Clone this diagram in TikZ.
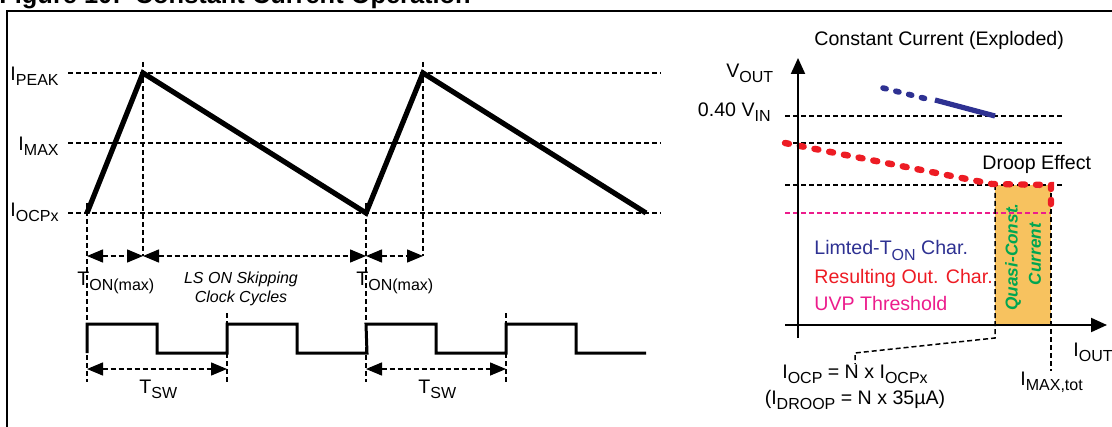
\documentclass[tikz,border=0pt]{standalone}
\usepackage{fontspec}
\setmainfont{Liberation Sans}
\usetikzlibrary{arrows.meta}

\definecolor{limblue}{HTML}{2E3192}
\definecolor{outred}{HTML}{ED1C24}
\definecolor{uvppink}{HTML}{EC1C8C}
\definecolor{ccgreen}{HTML}{00A651}
\definecolor{ccorange}{HTML}{F7C25F}

\newcommand{\lo}[1]{\raisebox{-2.5pt}{\fontsize{8}{9}\selectfont #1}}

\tikzset{
  lbl/.style={inner sep=0pt, font=\fontsize{9.8}{11}\selectfont},
  small/.style={inner sep=0pt, font=\fontsize{8}{9}\selectfont\itshape},
  guide/.style={line width=0.75pt, dash pattern=on 2.5pt off 1.5pt},
  dim/.style={guide, {Triangle[length=8pt,width=6.5pt]}-{Triangle[length=8pt,width=6.5pt]}},
  wave/.style={line width=2.6pt},
  pulse/.style={line width=1.5pt},
  axis/.style={line width=1pt, -{Triangle[length=8pt,width=7pt]}},
  reddots/.style={outred, line width=3.2pt, line cap=round, dash pattern=on 2pt off 5.5pt},
  bluedots/.style={limblue, line width=2.8pt, line cap=round, dash pattern=on 1.6pt off 5pt},
}

\begin{document}
\begin{tikzpicture}[x=0.5pt, y=-0.5pt]
    \useasboundingbox (0,0) rectangle (1112,427);
    \begin{scope}
    \clip (0,0) rectangle (1112,427);
    \node[lbl, anchor=base west, font=\fontsize{12.7}{14}\selectfont\bfseries] (title) at (-1,4) {Figure 10:\ \ Constant Current Operation};
    \end{scope}
    \draw[line width=1pt] (7,427) -- (7,11) -- (1112,11);

    % current ramp
    \node[lbl, anchor=base east] (ipeak) at (59,81) {I\lo{PEAK}};
    \node[lbl, anchor=base east] (imax) at (59,151) {I\lo{MAX}};
    \node[lbl, anchor=base east] (iocpx) at (59,216) {I\lo{OCPx}};
    \draw[guide] (68,73) -- (661,73);
    \draw[guide] (68,143) -- (661,143);
    \draw[guide] (68,213) -- (661,213);
    \draw[guide] (87,203) -- (87,382);
    \draw[guide] (143,62) -- (143,256);
    \draw[guide] (366,203) -- (366,382);
    \draw[guide] (423,62) -- (423,256);
    \draw[guide] (227,313) -- (227,382);
    \draw[guide] (506,313) -- (506,382);

    \coordinate (r0) at (87,213);
    \coordinate (p1) at (143,73);
    \coordinate (r1) at (366,213);
    \coordinate (p2) at (423,73);
    \coordinate (r2) at (646,213);
    \draw[wave] (r0) -- (p1) -- (r1) -- (p2) -- (r2);

    \coordinate (a0) at (87,256);
    \coordinate (a1) at (143,256);
    \coordinate (a2) at (366,256);
    \coordinate (a3) at (423,256);
    \draw[dim] (a0) -- (a1);
    \draw[dim] (a1) -- (a2);
    \draw[dim] (a2) -- (a3);
    \node[lbl, anchor=base west] (ton1) at (77,285) {T\lo{ON(max)}};
    \node[lbl, anchor=base west] (ton2) at (356,285) {T\lo{ON(max)}};
    \node[small, anchor=base] (skip1) at (241,283) {LS ON Skipping};
    \node[small, anchor=base] (skip2) at (241,302) {Clock Cycles};

    % clock
    \draw[pulse] (87,353) foreach \s in {87,227,366,506} { -- (\s,324) -- (\s+70,324) -- (\s+70,353) -- (\s+140,353) };
    \coordinate (s0) at (87,369);
    \coordinate (s1) at (227,369);
    \coordinate (s2) at (366,369);
    \coordinate (s3) at (506,369);
    \draw[dim] (s0) -- (s1);
    \draw[dim] (s2) -- (s3);
    \node[lbl, anchor=base west] (tsw1) at (139,393) {T\lo{SW}};
    \node[lbl, anchor=base west] (tsw2) at (418,393) {T\lo{SW}};

    % output characteristic
    \node[lbl, anchor=base west] (head) at (814,46) {Constant Current (Exploded)};
    \node[lbl, anchor=base west] (vout) at (726,78) {V\lo{OUT}};
    \node[lbl, anchor=base east] (vin) at (771,117) {0.40 V\lo{IN}};
    \node[lbl, anchor=base west] (droop) at (982,170) {Droop Effect};

    \fill[ccorange] (995,185) rectangle (1051,325);
    \draw[guide] (785,116) -- (1065,116);
    \draw[guide] (785,143) -- (1065,143);
    \draw[guide] (785,185) -- (1065,185);
    \draw[guide, uvppink] (785,213) -- (1051,213);

    \node[lbl, anchor=base west, limblue] (leglim) at (814,255) {Limted-T\lo{ON} Char.};
    \node[lbl, anchor=base west, outred] (legout) at (814,283) {Resulting Out. Char.};
    \node[lbl, anchor=base west, uvppink] (leguvp) at (814,310) {UVP Threshold};
    \node[inner sep=0pt, rotate=90, ccgreen, font=\fontsize{8.6}{10}\selectfont\bfseries\itshape] (quasi) at (1013,257) {Quasi-Const.};
    \node[inner sep=0pt, rotate=90, ccgreen, font=\fontsize{8.6}{10}\selectfont\bfseries\itshape] (curr) at (1035,254) {Current};

    \node[lbl, anchor=base] (iocp) at (855,378) {I\lo{OCP} = N x I\lo{OCPx}};
    \node[lbl, anchor=base] (idroop) at (855,404) {(I\lo{DROOP} = N x 35µA)};
    \node[lbl, anchor=base west] (imaxtot) at (1020,385) {I\lo{MAX,tot}};
    \node[lbl, anchor=base west] (iout) at (1073,356) {I\lo{OUT}};
    \draw[guide] (995,185) -- (995,338) -- (855,353) -- (iocp.north);
    \draw[guide] (1051,185) -- (imaxtot.north -| 1051,0);

    \draw[reddots] (785,143) -- (992,184) -- (1051,185) -- (1051,206);
    \draw[bluedots] (883,88) -- (927,99);
    \draw[limblue, line width=2.6pt] (935,100) -- (995,116);

    \draw[axis] (798,338) -- (798,58);
    \draw[axis] (785,325) -- (1107,325);
\end{tikzpicture}
\end{document}
